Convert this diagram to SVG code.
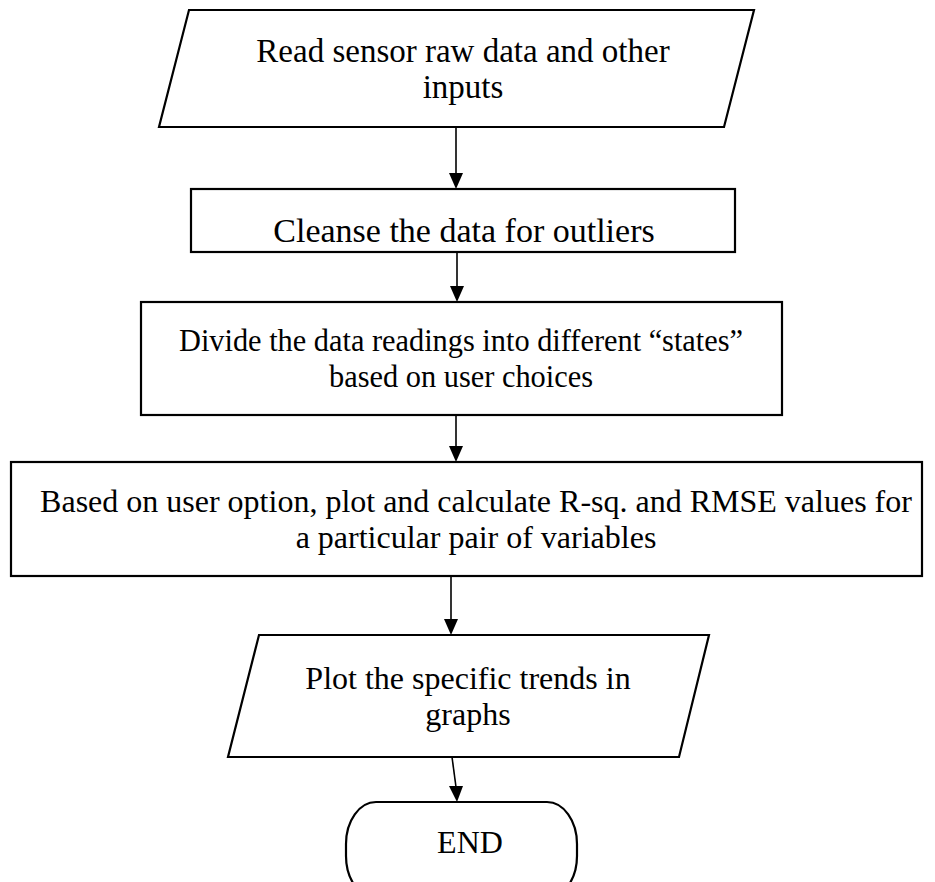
<svg xmlns="http://www.w3.org/2000/svg" width="935" height="882" viewBox="0 0 935 882">
  <style>
    .shape { fill: #ffffff; stroke: #000000; stroke-width: 2.2; }
    .label { font-family: "Liberation Serif", "Times New Roman", serif; font-size: 32px; fill: #000000; text-anchor: middle; }
    .edge { stroke: #000000; stroke-width: 1.6; fill: none; }
    .head { fill: #000000; }
  </style>
  <rect width="935" height="882" fill="#ffffff"/>

  <!-- flow connectors: shaft plus filled arrowhead -->
  <g id="connectors">
    <line class="edge" x1="456" y1="127" x2="456" y2="174"/>
    <path class="head" d="M449,173 L463,173 L456,189 Z"/>
    <line class="edge" x1="457" y1="252" x2="457" y2="287"/>
    <path class="head" d="M450,286 L464,286 L457,302 Z"/>
    <line class="edge" x1="456" y1="415" x2="456" y2="447"/>
    <path class="head" d="M449,446 L463,446 L456,462 Z"/>
    <line class="edge" x1="451" y1="576" x2="451" y2="620"/>
    <path class="head" d="M444,619 L458,619 L451,635 Z"/>
    <line class="edge" x1="452" y1="757" x2="456" y2="787"/>
    <path class="head" d="M449,786 L463,786 L457,802 Z"/>
  </g>

  <g id="read-inputs">
    <polygon class="shape" points="189,10 754,10 724,127 159,127"/>
    <text class="label" x="463" y="62" style="font-size:33px">Read sensor raw data and other</text>
    <text class="label" x="463" y="98" style="font-size:33px">inputs</text>
  </g>

  <g id="cleanse">
    <rect class="shape" x="191" y="189" width="544" height="63"/>
    <text class="label" x="464" y="242" style="font-size:34px">Cleanse the data for outliers</text>
  </g>

  <g id="divide-states">
    <rect class="shape" x="141" y="302" width="641" height="113"/>
    <text class="label" x="461" y="351" textLength="564" lengthAdjust="spacingAndGlyphs">Divide the data readings into different “states”</text>
    <text class="label" x="461" y="387" textLength="264" lengthAdjust="spacingAndGlyphs">based on user choices</text>
  </g>

  <g id="calculate">
    <rect class="shape" x="11" y="462" width="911" height="114"/>
    <text class="label" x="476" y="512">Based on user option, plot and calculate R-sq. and RMSE values for</text>
    <text class="label" x="476" y="548">a particular pair of variables</text>
  </g>

  <g id="plot-trends">
    <polygon class="shape" points="259,635 709,635 679,757 228,757"/>
    <text class="label" x="468" y="689">Plot the specific trends in</text>
    <text class="label" x="468" y="725">graphs</text>
  </g>

  <g id="end">
    <rect class="shape" x="346" y="802" width="231" height="96" rx="30" ry="42"/>
    <text class="label" x="470" y="853">END</text>
  </g>
</svg>
